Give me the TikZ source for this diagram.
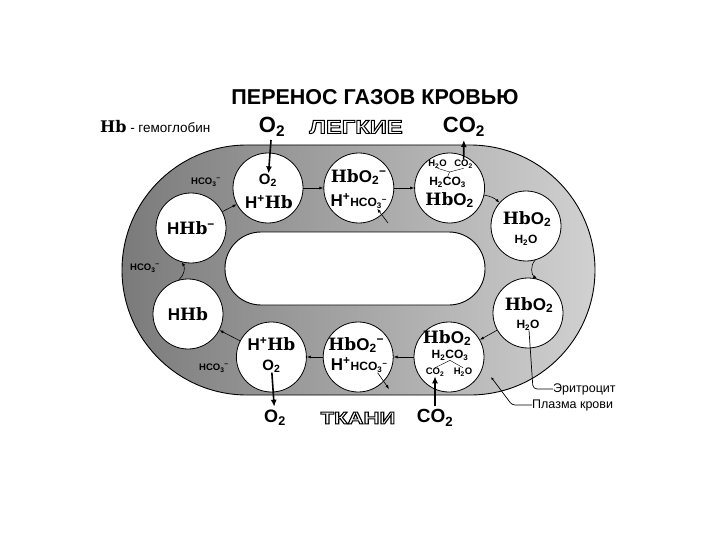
\documentclass[tikz,border=0pt]{standalone}
\usepackage{fontspec}
\setmainfont{Liberation Sans}
\newfontfamily\hbfont{DejaVu Serif}
\usetikzlibrary{arrows.meta,positioning,calc}
\newcommand{\fsz}[1]{\fontsize{#1}{#1}\selectfont}
\newcommand{\hbsym}{{\hbfont\bfseries Hb}}
\newcommand{\ionm}[2]{#1\textsubscript{#2}\textsuperscript{−}}
\newcommand{\hollow}[1]{\special{pdf:literal direct q 1 Tr 0.9 w}#1\special{pdf:literal direct Q}}

\begin{document}
\begin{tikzpicture}[x=1pt,y=-1pt,>={Latex[length=4pt,width=3pt]},node distance=20pt,every node/.style={font=\bfseries}]
\tikzset{cell/.style={circle,draw,fill=white,line width=0.8pt,minimum size=70pt,inner sep=0pt},big/.style={font=\fsz{17}\bfseries,inner sep=0pt},mid/.style={font=\fsz{12}\bfseries,inner sep=0pt},tiny/.style={font=\fsz{9.5}\bfseries,inner sep=0pt},flow/.style={->,line width=0.6pt},gas/.style={-{Latex[length=7pt,width=6pt]},line width=1.6pt},note/.style={anchor=west,font=\fsz{12.5}\mdseries,inner sep=0pt}}
\useasboundingbox (0,0) rectangle (720,540);
% plasma ring and hole
\draw[line width=0.9pt,left color=black!52,right color=black!18,rounded corners=125pt] (122,145) rectangle (595,395);
\draw[line width=0.9pt,fill=white,rounded corners=36pt] (225,232) rectangle (485,305);
% title and legend
\node[font=\fsz{21.5}\bfseries] (title) at (375,97) {ПЕРЕНОС ГАЗОВ КРОВЬЮ};
\node[anchor=west,font=\fsz{13.5}\mdseries,inner sep=0pt] (legend) at (100,127) {{\fsz{16}\hbsym} - гемоглобин};
% red cells
\node[cell] (c1) at (268,188) {};
\node[cell,right=of c1] (c2) {};
\node[cell,right=of c2] (c3) {};
\node[cell] (c4) at (526,226) {};
\node[cell] (c5) at (528,313) {};
\node[cell] (c6) at (449,357) {};
\node[cell,left=of c6] (c7) {};
\node[cell,left=16pt of c7] (c8) {};
\node[cell] (c9) at (188,314) {};
\node[cell] (c10) at (191,228) {};
% cell contents
\node[font=\fsz{15}\bfseries,inner sep=0pt] (o2a) at ($(c1)+(0,-8)$) {O\textsubscript{2}};
\node[big] (hb1) at ($(c1)+(1,14)$) {H\textsuperscript{+}\hbsym};
\node[big] (hbo2) at ($(c2)+(0,-11)$) {\hbsym\ionm{O}{2}};
\node[big] (hco2) at ($(c2)+(0,13)$) {H\textsuperscript{+}{\fsz{12}\ionm{HCO}{3}}};
\node[tiny] (w3) at ($(c3)+(-12,-24)$) {H\textsubscript{2}O};
\node[tiny] (d3) at ($(c3)+(14,-24)$) {CO\textsubscript{2}};
\node[mid] (a3) at ($(c3)+(-2,-6)$) {H\textsubscript{2}CO\textsubscript{3}};
\node[big] (hb3) at ($(c3)+(0,12)$) {\hbsym O\textsubscript{2}};
\coordinate (y3) at ($(c3)+(0,-16)$);
\draw (w3.south) -- (y3) -- (d3.south);
\draw (y3) -- (a3.north);
\node[big] (hb4) at ($(c4)+(1,-7)$) {\hbsym O\textsubscript{2}};
\node[mid] (w4) at ($(c4)+(0,14)$) {H\textsubscript{2}O};
\node[big] (hb5) at ($(c5)+(1,-8)$) {\hbsym O\textsubscript{2}};
\node[mid] (w5) at ($(c5)+(0,12)$) {H\textsubscript{2}O};
\node[big] (hb6) at ($(c6)+(-2,-19)$) {\hbsym O\textsubscript{2}};
\node[mid] (a6) at ($(c6)+(1,-2)$) {H\textsubscript{2}CO\textsubscript{3}};
\node[tiny] (d6) at ($(c6)+(-14,15)$) {CO\textsubscript{2}};
\node[tiny] (w6) at ($(c6)+(14,15)$) {H\textsubscript{2}O};
\draw (d6.north) -- (a6.south) -- (w6.north);
\node[big] (hbo7) at ($(c7)+(-2,-12)$) {\hbsym\ionm{O}{2}};
\node[big] (hco7) at ($(c7)+(1,8)$) {H\textsuperscript{+}{\fsz{12}\ionm{HCO}{3}}};
\node[big] (hb8) at ($(c8)+(0,-13)$) {H\textsuperscript{+}\hbsym};
\node[font=\fsz{15}\bfseries,inner sep=0pt] (o2b) at ($(c8)+(0,9)$) {O\textsubscript{2}};
\node[big] (hhb9) at (c9) {H\hbsym};
\node[big] (hhb10) at (c10) {H\hbsym\textsuperscript{−}};
% bicarbonate in plasma
\node[tiny] (hcoA) at (206,182) {\ionm{HCO}{3}};
\node[tiny] (hcoB) at (145,268) {\ionm{HCO}{3}};
\node[tiny] (hcoC) at (214,368) {\ionm{HCO}{3}};
% cycle
\draw[flow] (c1) -- (c2);
\draw[flow] (c2) -- (c3);
\draw[flow] (c3) to[bend left=15] (c4);
\draw[flow] (c4.-75) to[bend right=50] (c5.75);
\draw[flow] (c5) -- (c6);
\draw[flow] (c6) -- (c7);
\draw[flow] (c7) -- (c8);
\draw[flow] (c8) -- (c9);
\draw[flow] (c9.105) to[bend right=40] (c10.255);
\draw[flow] (c10) -- (c1);
\coordinate (in2) at (388,223);
\draw[flow] (in2) -- ([xshift=-10pt]hco2.south east);
\coordinate (out7) at (389,389);
\draw[flow] ([xshift=-10pt]hco7.south east) -- (out7);
% lungs and tissues
\node[font=\fsz{22}\bfseries] (o2top) at (272,127) {O\textsubscript{2}};
\node[font=\fsz{22}\bfseries] (co2top) at (464,127) {CO\textsubscript{2}};
\node[font=\fsz{19}\bfseries] (lungs) at (356,127) {\hollow{\scalebox{1.25}[1]{ЛЕГКИЕ}}};
\node[font=\fsz{18}\bfseries] (o2bot) at (275,418) {O\textsubscript{2}};
\node[font=\fsz{19}\bfseries] (co2bot) at (435,418) {CO\textsubscript{2}};
\node[font=\fsz{17}\bfseries] (tissue) at (358,418) {\hollow{\scalebox{1.3}[1]{ТКАНИ}}};
\draw[gas] (o2top) -- (o2a);
\draw[gas] (d3) -- (co2top);
\draw[gas] (o2b) -- (o2bot);
\draw[gas] (co2bot) -- (d6);
% callouts
\node[note] (er) at (553,389) {Эритроцит};
\node[note] (pl) at (532,405) {Плазма крови};
\draw[rounded corners=4pt,line width=0.7pt] ([xshift=1pt]w5.south) -- ([xshift=-20pt]er.west) -- (er.west);
\coordinate (pdot) at (491,377);
\draw[{Latex[length=3pt,width=2.5pt]}-,rounded corners=3pt,line width=0.7pt] (pdot) -- ([xshift=-20pt]pl.west) -- (pl.west);
\end{tikzpicture}
\end{document}
